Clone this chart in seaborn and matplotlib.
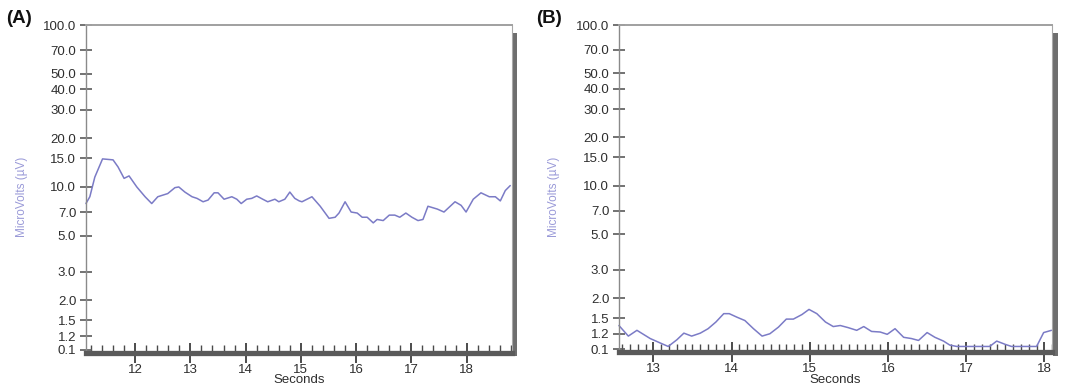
import numpy as np
import pandas as pd
import seaborn as sns
import matplotlib.pyplot as plt
from matplotlib.patches import Rectangle
from matplotlib.ticker import FixedLocator, MultipleLocator, NullFormatter

# panel A trace (seconds, microvolts)
a_seconds = [11.11, 11.18, 11.27, 11.41, 11.60, 11.69, 11.80, 11.89, 12.03, 12.18,
             12.30, 12.41, 12.50, 12.59, 12.72, 12.79, 12.90, 13.03, 13.12, 13.23,
             13.32, 13.43, 13.50, 13.61, 13.75, 13.84, 13.92, 14.02, 14.11, 14.20,
             14.31, 14.40, 14.53, 14.60, 14.71, 14.80, 14.89, 14.97, 15.02, 15.20,
             15.35, 15.51, 15.62, 15.69, 15.80, 15.91, 16.02, 16.11, 16.20, 16.31,
             16.38, 16.49, 16.60, 16.70, 16.79, 16.90, 17.01, 17.12, 17.21, 17.30,
             17.47, 17.59, 17.79, 17.90, 17.99, 18.12, 18.26, 18.41, 18.52, 18.61,
             18.70, 18.79]
a_microvolts = [7.9, 8.7, 11.5, 14.9, 14.7, 13.3, 11.3, 11.7, 10.0, 8.7,
                7.9, 8.7, 8.9, 9.1, 9.9, 10.0, 9.3, 8.7, 8.5, 8.1,
                8.3, 9.2, 9.2, 8.4, 8.7, 8.4, 7.9, 8.4, 8.5, 8.8,
                8.4, 8.1, 8.4, 8.1, 8.4, 9.3, 8.5, 8.2, 8.1, 8.7,
                7.6, 6.4, 6.5, 6.9, 8.1, 7.0, 6.9, 6.5, 6.5, 6.0,
                6.3, 6.2, 6.7, 6.7, 6.5, 6.9, 6.5, 6.2, 6.3, 7.6,
                7.3, 7.0, 8.1, 7.7, 7.0, 8.4, 9.2, 8.7, 8.7, 8.2,
                9.5, 10.2]

# panel B trace
b_seconds = [12.56, 12.68, 12.79, 12.96, 13.09, 13.19, 13.30, 13.39, 13.49, 13.60,
             13.70, 13.80, 13.90, 13.97, 14.07, 14.17, 14.28, 14.39, 14.49, 14.60,
             14.70, 14.79, 14.90, 14.99, 15.09, 15.20, 15.30, 15.39, 15.49, 15.60,
             15.69, 15.79, 15.90, 15.99, 16.09, 16.20, 16.30, 16.39, 16.50, 16.60,
             16.71, 16.79, 16.88, 17.00, 17.10, 17.20, 17.30, 17.39, 17.50, 17.58,
             17.70, 17.80, 17.90, 17.99, 18.09]
b_microvolts = [1.35, 1.16, 1.26, 1.12, 1.05, 1.00, 1.10, 1.21, 1.16, 1.21,
                1.29, 1.42, 1.60, 1.60, 1.52, 1.45, 1.29, 1.16, 1.20, 1.32,
                1.48, 1.48, 1.58, 1.70, 1.60, 1.42, 1.33, 1.35, 1.31, 1.26,
                1.33, 1.24, 1.23, 1.19, 1.29, 1.14, 1.12, 1.09, 1.22, 1.14,
                1.08, 1.02, 1.00, 1.00, 1.00, 1.00, 1.00, 1.08, 1.03, 1.00,
                1.00, 1.00, 1.00, 1.22, 1.26]

y_tick_values = [1.2, 1.5, 2.0, 3.0, 5.0, 7.0, 10.0, 15.0, 20.0, 30.0, 40.0, 50.0, 70.0, 100.0]
y_tick_labels = ["0.1", "1.2", "1.5", "2.0", "3.0", "5.0", "7.0", "10.0", "15.0",
                 "20.0", "30.0", "40.0", "50.0", "70.0", "100.0"]
x_major_a = [12, 13, 14, 15, 16, 17, 18]
x_major_b = [13, 14, 15, 16, 17, 18]

sns.set_style("white")
plt.rcParams['font.family'] = ['Liberation Sans', 'DejaVu Sans']

line_color = '#7b7bc6'
text_color = '#2e2e2e'

fig = plt.figure(figsize=(10.8, 3.91), dpi=100)
fig.patch.set_facecolor('white')

panels = [
    dict(rect=[0.0796, 0.105, 0.3944, 0.831], x=a_seconds, y=a_microvolts,
         xlim=(11.11, 18.82), ybot=0.985, major=x_major_a, minor=0.2, tag="(A)", tag_x=0.006),
    dict(rect=[0.5731, 0.107, 0.4012, 0.829], x=b_seconds, y=b_microvolts,
         xlim=(12.56, 18.10), ybot=0.962, major=x_major_b, minor=0.1, tag="(B)", tag_x=0.496),
]

for p in panels:
    ax = fig.add_axes(p['rect'])
    df = pd.DataFrame({'Seconds': p['x'], 'MicroVolts': p['y']})
    sns.lineplot(data=df, x='Seconds', y='MicroVolts', ax=ax, color=line_color,
                 linewidth=1.1, clip_on=False)
    ax.set_yscale('log')
    ax.set_ylim(p['ybot'], 100)
    ax.set_xlim(*p['xlim'])

    ax.yaxis.set_major_locator(FixedLocator([p['ybot']] + y_tick_values))
    ax.set_yticklabels(y_tick_labels)
    ax.yaxis.set_minor_locator(FixedLocator([]))
    ax.yaxis.set_minor_formatter(NullFormatter())
    ax.tick_params(axis='y', which='major', direction='inout', length=8, width=1.2,
                   color='#5a5a5a', labelsize=9.5, labelcolor=text_color, pad=3, left=True)

    ax.xaxis.set_major_locator(FixedLocator(p['major']))
    ax.xaxis.set_minor_locator(MultipleLocator(p['minor']))
    ax.set_xticklabels([str(v) for v in p['major']])
    ax.tick_params(axis='x', which='major', direction='inout', length=14, width=1.3,
                   color='#3e3e3e', labelsize=9.5, labelcolor=text_color, pad=1, bottom=True)
    ax.tick_params(axis='x', which='minor', direction='in', length=6, width=1.0,
                   color='#4a4a4a', bottom=True)

    ax.set_xlabel('Seconds', fontsize=9.5, color=text_color, labelpad=-1)
    ax.set_ylabel('MicroVolts (\u00b5V)', fontsize=8.5, color='#9a9ad8')
    ax.yaxis.set_label_coords(-0.137, 0.47)

    ax.spines['left'].set_color('#8a8a8a')
    ax.spines['left'].set_linewidth(1.0)
    ax.spines['top'].set_color('#a0a0a0')
    ax.spines['top'].set_linewidth(1.4)
    ax.spines['right'].set_color('#a8a8a8')
    ax.spines['right'].set_linewidth(0.8)
    ax.spines['bottom'].set_color('#5a5a5a')
    ax.spines['bottom'].set_linewidth(3.8)
    ax.spines['bottom'].set_position(('outward', 2))

    # drop shadow on right edge
    ax.add_patch(Rectangle((1.002, -0.02), 0.011, 0.995, transform=ax.transAxes,
                           facecolor='#6e6e6e', edgecolor='none', clip_on=False))

    fig.text(p['tag_x'], 0.952, p['tag'], fontsize=13.5, fontweight='bold',
             color='#111111', va='center', ha='left')

plt.savefig('out.png', dpi=100, facecolor='white')
plt.close()
